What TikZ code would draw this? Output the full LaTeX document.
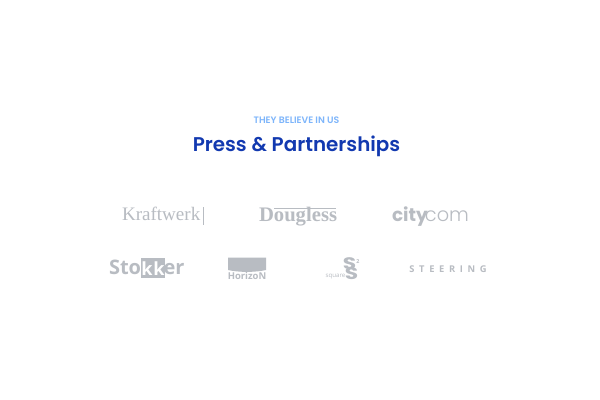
\documentclass[tikz,border=0pt]{standalone}
\usepackage{fontspec}
\setmainfont{Poppins}
\newfontfamily\serifx{Liberation Serif}
\newfontfamily\sansx{Open Sans}
\newfontfamily\popb{Poppins}[UprightFont=* SemiBold,BoldFont=* Bold]
\newfontfamily\popl{Poppins Light}
\definecolor{logo}{HTML}{B8BCC2}
\definecolor{kick}{HTML}{7DB5FB}
\definecolor{head}{HTML}{1239B0}
\tikzset{px/.style={x=0.75pt,y=-0.75pt},
  lbl/.style={inner sep=0pt,outer sep=0pt,anchor=center,text=logo}}
\begin{document}
\begin{tikzpicture}[px]
\useasboundingbox (0,0) rectangle (600,400);
\fill[white] (0,0) rectangle (600,400);
\node[lbl,text=kick,anchor=base] (kicker) at (296.5,123.5) {\popb\fontsize{7pt}{8pt}\selectfont THEY BELIEVE IN US};
\node[lbl,text=head,anchor=base] (title) at (296.5,151) {\popb\fontsize{14.9pt}{18pt}\selectfont Press \& Partnerships};
% Kraftwerk
\node[lbl,anchor=base west] (kraft) at (122,220) {\serifx\fontsize{14.3pt}{16pt}\selectfont Kraftwerk};
\fill[logo] (203.2,206.5) rectangle (204.1,224.5);
% Dougless
\node[lbl,anchor=base west] (doug) at (259,221.5) {\serifx\bfseries\fontsize{15.5pt}{18pt}\selectfont Dougless};
\fill[logo] (274,208) rectangle (336,208.8);
% citycom
\node[lbl,anchor=base west] (city) at (392,221) {\popb\bfseries\fontsize{13.8pt}{16pt}\selectfont city};
\node[lbl,anchor=base east] (com) at (469,221) {\popl\fontsize{14.5pt}{16pt}\selectfont com};
% Stokker
\node[lbl,anchor=base west] (sto) at (109,274.5) {\sansx\bfseries\fontsize{15pt}{17pt}\selectfont Sto};
\fill[logo] (141,258) rectangle (165,278);
\node[lbl,text=white,anchor=base] (kk) at (153,275) {\sansx\bfseries\fontsize{13.6pt}{15pt}\selectfont k\hspace{0.7pt}k};
\node[lbl,anchor=base east] (er) at (184.5,274.5) {\sansx\bfseries\fontsize{15pt}{17pt}\selectfont er};
% Horizon
\fill[logo] (228,257.5) -- (266,257.5) -- (266,270) .. controls (255,272.5) and (239,272.5) .. (228,270) -- cycle;
\node[lbl,anchor=base] (hor) at (247,279.5) {\sansx\bfseries\fontsize{7.1pt}{8pt}\selectfont HorizoN};
% square S
\node[lbl,anchor=base] (sq) at (335.5,277.5) {\sansx\fontsize{4.6pt}{5pt}\selectfont square};
\node[lbl,anchor=base] (s1) at (349.5,269) {\popb\bfseries\fontsize{12.5pt}{14pt}\selectfont\scalebox{1.3}[1]{S}};
\node[lbl,anchor=base] (s2) at (351.5,279.5) {\popb\bfseries\fontsize{12.5pt}{14pt}\selectfont\scalebox{1.3}[1]{S}};
\node[lbl,anchor=base] (two) at (358,263) {\sansx\bfseries\fontsize{4pt}{5pt}\selectfont 2};
% Steering
\node[lbl] (st) at (448,268.8) {\sansx\bfseries\fontsize{7pt}{8pt}\selectfont S\hspace{3.5pt}T\hspace{3.5pt}E\hspace{3.5pt}E\hspace{3.5pt}R\hspace{3.5pt}I\hspace{3.5pt}N\hspace{3.5pt}G};
\end{tikzpicture}
\end{document}
